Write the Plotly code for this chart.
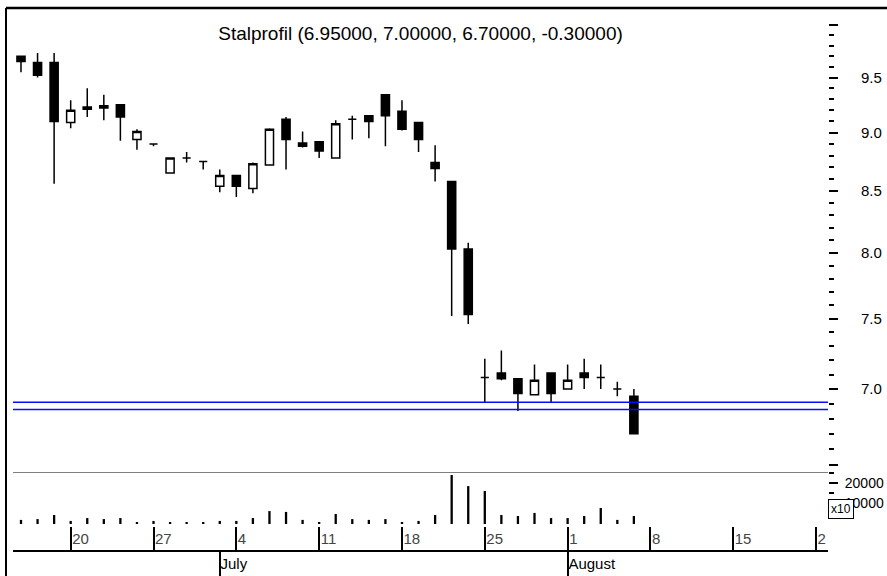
import plotly.graph_objects as go

# ---------------- data (2005, trading days only) ----------------
dagar = ["2005-06-15", "2005-06-16", "2005-06-17", "2005-06-20", "2005-06-21", "2005-06-22",
         "2005-06-23", "2005-06-24", "2005-06-27", "2005-06-28", "2005-06-29", "2005-06-30",
         "2005-07-01", "2005-07-04", "2005-07-05", "2005-07-06", "2005-07-07", "2005-07-08",
         "2005-07-11", "2005-07-12", "2005-07-13", "2005-07-14", "2005-07-15", "2005-07-18",
         "2005-07-19", "2005-07-20", "2005-07-21", "2005-07-22", "2005-07-25", "2005-07-26",
         "2005-07-27", "2005-07-28", "2005-07-29", "2005-08-01", "2005-08-02", "2005-08-03",
         "2005-08-04", "2005-08-05"]
oppning = [9.70, 9.64, 9.64, 9.09, 9.23, 9.24, 9.25, 8.94, 8.90, 8.65, 8.78, 8.75,
           8.54, 8.63, 8.52, 8.72, 9.12, 8.91, 8.92, 8.78, 9.12, 9.15, 9.34, 9.19,
           9.09, 8.74, 8.58, 8.03, 7.08, 7.11, 7.07, 6.96, 7.11, 7.00, 7.11, 7.08,
           7.00, 6.95]
hogst = [9.70, 9.73, 9.73, 9.29, 9.40, 9.34, 9.25, 9.03, 8.90, 8.78, 8.83, 8.75,
         8.68, 8.63, 8.74, 9.04, 9.14, 9.01, 8.92, 9.11, 9.15, 9.15, 9.34, 9.29,
         9.09, 8.89, 8.58, 8.08, 7.21, 7.27, 7.07, 7.17, 7.11, 7.17, 7.21, 7.17,
         7.05, 7.00]
lagst = [9.55, 9.50, 8.56, 9.04, 9.14, 9.11, 8.93, 8.85, 8.88, 8.65, 8.74, 8.68,
         8.49, 8.45, 8.48, 8.72, 8.68, 8.87, 8.78, 8.78, 8.94, 8.95, 8.88, 9.02,
         8.83, 8.58, 7.52, 7.46, 6.91, 7.06, 6.85, 6.96, 6.91, 7.00, 7.00, 7.00,
         6.95, 6.70]
stangning = [9.65, 9.52, 9.10, 9.20, 9.21, 9.22, 9.14, 9.01, 8.90, 8.78, 8.78, 8.75,
             8.63, 8.54, 8.73, 9.03, 8.94, 8.88, 8.84, 9.08, 9.12, 9.10, 9.15, 9.03,
             8.94, 8.69, 8.03, 7.53, 7.08, 7.07, 6.97, 7.06, 6.97, 7.06, 7.08, 7.08,
             7.00, 6.70]
volym = [2000, 2400, 4400, 1500, 2900, 2400, 2900, 700, 1500, 700, 700, 700,
         1500, 1500, 2900, 6300, 5900, 2000, 700, 4900, 2400, 2000, 2400, 700,
         1500, 4400, 23900, 18500, 16100, 4400, 3900, 5400, 2900, 2900, 3900, 7800,
         2000, 3900]
stodnivaer = [6.91, 6.86]

veckor = ["2005-06-20", "2005-06-27", "2005-07-04", "2005-07-11", "2005-07-18",
          "2005-07-25", "2005-08-01", "2005-08-08", "2005-08-15", "2005-08-22"]
veckotext = ["20", "27", "4", "11", "18", "25", "1", "8", "15", "2"]
manader = ["2005-07-01", "2005-08-01"]
manadtext = ["July", "August"]

pris_ticks = [6.5, 7.0, 7.5, 8.0, 8.5, 9.0, 9.5, 10.0]
pris_text = ["", "7.0", "7.5", "8.0", "8.5", "9.0", "9.5", ""]
pris_minor = [6.6, 6.7, 6.8, 6.9, 7.1, 7.2, 7.3, 7.4, 7.6, 7.7, 7.8, 7.9, 8.1, 8.2, 8.3, 8.4,
              8.6, 8.7, 8.8, 8.9, 9.1, 9.2, 9.3, 9.4, 9.6, 9.7, 9.8, 9.9]
vol_ticks = [10000, 20000]
vol_text = ["10000", "20000"]
vol_minor = [15000, 25000]

titel = "Stalprofil (6.95000, 7.00000, 6.70000, -0.30000)"

# ---------------- figure ----------------
x = [d + " 12:00" for d in dagar]
xv = [d + " 12:00" for d in veckor]
xm = [d + " 12:00" for d in manader]
xrange = ["2005-06-15 00:25", "2005-08-23 05:15"]
breaks = [dict(bounds=["sat", "mon"])]
FONT = "Liberation Sans, Arial, sans-serif"

W, H = 887, 576
L, R, T, B = 13, 59, 8, 26
pw = W - L - R
ph = H - T - B
split = 78 / ph

fig = go.Figure()

fig.add_trace(go.Candlestick(
    x=x, open=oppning, high=hogst, low=lagst, close=stangning,
    increasing=dict(line=dict(color="black", width=1.5), fillcolor="white"),
    decreasing=dict(line=dict(color="black", width=1.5), fillcolor="black"),
    whiskerwidth=0, showlegend=False, xaxis="x", yaxis="y",
))

for v in stodnivaer:
    fig.add_trace(go.Scatter(
        x=xrange, y=[v, v], mode="lines", line=dict(color="#0a0aff", width=1.5),
        showlegend=False, hoverinfo="skip", xaxis="x", yaxis="y",
    ))

fig.add_trace(go.Bar(
    x=x, y=volym, marker=dict(color="black", line=dict(width=0)),
    width=1.2e7, showlegend=False, xaxis="x2", yaxis="y2",
))

# carrier for the month axis
fig.add_trace(go.Scatter(
    x=x[:1], y=[0], mode="markers", marker=dict(opacity=0),
    showlegend=False, hoverinfo="skip", xaxis="x3", yaxis="y2",
))

# frame
fig.add_shape(type="line", xref="paper", yref="paper", x0=(6 - L) / pw, x1=(6 - L) / pw,
              y0=-B / ph, y1=1, line=dict(color="black", width=2))
fig.add_shape(type="line", xref="paper", yref="paper", x0=(6 - L) / pw, x1=(W - L) / pw,
              y0=1, y1=1, line=dict(color="black", width=2.5))

fig.add_annotation(text="x10", xref="paper", yref="paper", x=1.0, y=(550 - 509) / ph,
                   xanchor="left", yanchor="middle", showarrow=False,
                   font=dict(size=12, color="black", family=FONT),
                   bgcolor="white", bordercolor="black", borderwidth=1, borderpad=2)

fig.update_layout(
    width=W, height=H,
    margin=dict(l=L, r=R, t=T, b=B, autoexpand=False),
    paper_bgcolor="white", plot_bgcolor="white",
    font=dict(family=FONT, size=15, color="black"),
    title=dict(text=titel, x=0.5, xref="paper", y=1 - 33 / H, yref="container",
               xanchor="center", yanchor="middle", font=dict(size=19)),
    showlegend=False,
    xaxis=dict(domain=[0, 1], anchor="y", range=xrange, rangebreaks=breaks,
               rangeslider=dict(visible=False), showline=True, linecolor="#808080",
               linewidth=1, ticks="", showticklabels=False, showgrid=False,
               zeroline=False, automargin=False),
    yaxis=dict(domain=[split, 1], anchor="x", type="log", side="right",
               range=[0.80976, 1.00732], tickmode="array", tickvals=pris_ticks,
               ticktext=pris_text, ticks="outside", ticklen=9, tickwidth=2,
               tickcolor="black", ticklabelstandoff=20, showgrid=False,
               zeroline=False, showline=False, automargin=False,
               minor=dict(tickmode="array", tickvals=pris_minor, ticks="outside",
                          ticklen=5, tickwidth=2, tickcolor="black", showgrid=False)),
    xaxis2=dict(domain=[0, 1], anchor="y2", range=xrange, rangebreaks=breaks,
                showline=True, linecolor="black", linewidth=1.5, ticks="inside",
                ticklen=23, tickwidth=1.5, tickcolor="black", tickmode="array",
                tickvals=xv, ticktext=veckotext, ticklabelposition="inside right",
                ticklabeloverflow="allow", showgrid=False, zeroline=False,
                automargin=False),
    xaxis3=dict(overlaying="x2", anchor="y2", side="bottom", range=xrange,
                rangebreaks=breaks, showline=False, ticks="outside", ticklen=26,
                tickwidth=1.5, tickcolor="black", tickmode="array", tickvals=xm,
                ticktext=manadtext, ticklabelposition="outside right",
                ticklabeloverflow="allow", showgrid=False, zeroline=False,
                automargin=False),
    yaxis2=dict(domain=[0, split], anchor="x2", side="right",
                range=[-12683, 25366], tickmode="array", tickvals=vol_ticks,
                ticktext=vol_text, ticks="outside", ticklen=9, tickwidth=2,
                tickcolor="black", ticklabelstandoff=4, showgrid=False,
                zeroline=False, showline=False, automargin=False,
                tickfont=dict(size=14),
                minor=dict(tickmode="array", tickvals=vol_minor, ticks="outside",
                           ticklen=5, tickwidth=2, tickcolor="black", showgrid=False)),
)

# drop the page's default body margin so the figure fills the window
fig.write_html("out.html",
               config={"displayModeBar": False},
               post_script="document.body.style.margin='0';"
                           "document.body.style.overflow='hidden';")
